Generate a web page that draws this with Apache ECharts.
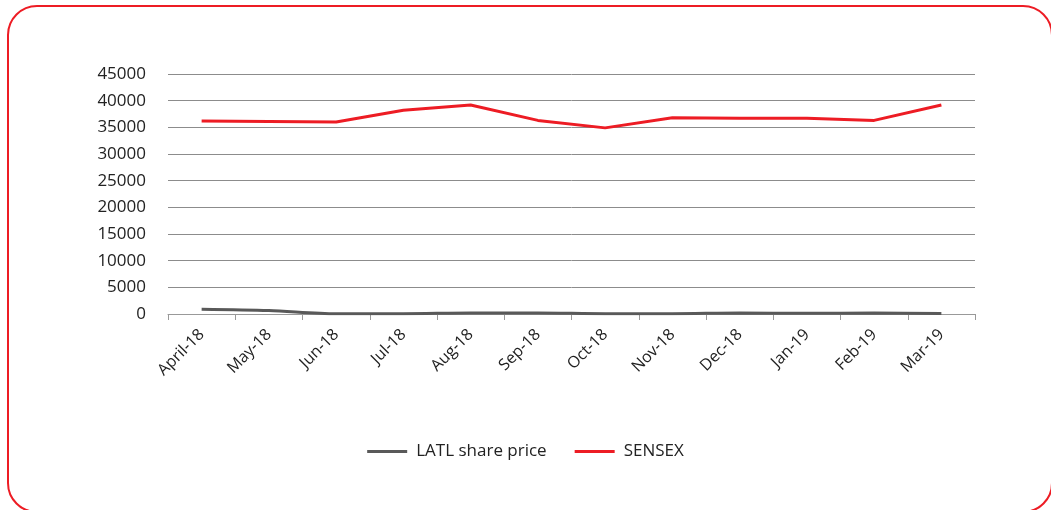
<!DOCTYPE html>
<html><head><meta charset="utf-8">
<script src="https://cdn.jsdelivr.net/npm/echarts@6/dist/echarts.min.js"></script>
<style>
html,body{margin:0;padding:0;background:#fff;overflow:hidden;}
#frame{position:absolute;left:7px;top:5px;width:1046px;height:508px;border:2.5px solid #ED1C24;border-radius:30px;box-sizing:border-box;}
#chart{position:absolute;left:0;top:0;width:1051px;height:510px;}
</style></head>
<body>
<div id="frame"></div>
<div id="chart"></div>
<script>
const categories = ['April-18','May-18','Jun-18','Jul-18','Aug-18','Sep-18','Oct-18','Nov-18','Dec-18','Jan-19','Feb-19','Mar-19'];
const latl = [900, 650, 60, 60, 200, 200, 60, 60, 200, 120, 180, 100];
const sensex = [36200, 36100, 36000, 38200, 39200, 36300, 34900, 36800, 36700, 36700, 36300, 39200];
const yTicks = {min: 0, max: 45000, interval: 5000};

const chart = echarts.init(document.getElementById('chart'), null, {renderer:'canvas'});
const font = '"Open Sans", sans-serif';
chart.setOption({
  animation:false,
  backgroundColor:'transparent',
  grid:{left:168,right:76,top:74,bottom:196,containLabel:false},
  legend:{
    top:438, left:'center', itemWidth:40, itemHeight:3, itemGap:28,
    textStyle:{fontFamily:font,fontSize:17,color:'#222',padding:[0,0,0,4]},
    icon:'rect',
    data:['LATL share price','SENSEX']
  },
  xAxis:{
    type:'category', data:categories, boundaryGap:true,
    axisLine:{show:true,lineStyle:{color:'#999',width:1}},
    axisTick:{show:true,length:6,lineStyle:{color:'#999'}},
    axisLabel:{rotate:45,fontFamily:font,fontSize:16,color:'#222',margin:18,interval:0}
  },
  yAxis:{
    type:'value', min:yTicks.min, max:yTicks.max, interval:yTicks.interval,
    axisLine:{show:false}, axisTick:{show:false},
    splitLine:{lineStyle:{color:'#8c8c8c',width:1}},
    axisLabel:{fontFamily:font,fontSize:17,color:'#222',margin:22,formatter:v=>String(v)}
  },
  series:[
    {name:'LATL share price',type:'line',data:latl,symbol:'none',smooth:0.3,
     lineStyle:{color:'#595959',width:3},itemStyle:{color:'#595959'}},
    {name:'SENSEX',type:'line',data:sensex,symbol:'none',
     lineStyle:{color:'#ED1C24',width:3},itemStyle:{color:'#ED1C24'}}
  ]
});
</script>
</body></html>
